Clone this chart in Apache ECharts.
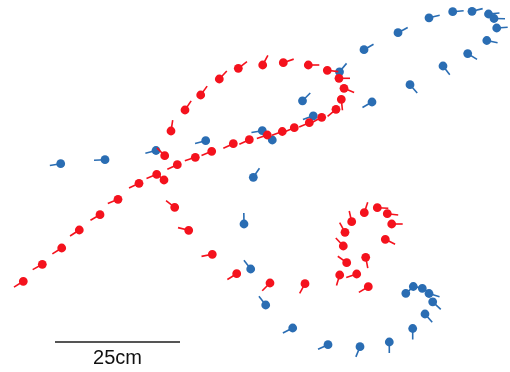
<!DOCTYPE html>
<html>
<head>
<meta charset="utf-8">
<script src="https://cdn.jsdelivr.net/npm/echarts@6/dist/echarts.min.js"></script>
<style>
html,body{margin:0;padding:0;background:#fff;}
#chart{width:510px;height:372px;}
</style>
</head>
<body>
<div id="chart"></div>
<script>
// positions in cm, heading angle in degrees (counter-clockwise from +x)
var redX = [4.66,8.46,12.34,15.86,20.0,23.6,27.8,31.34,35.46,39.06,42.34,46.66,49.86,53.46,56.46,58.86,61.86,64.34,67.2,68.26,68.8,67.8,65.46,61.66,56.66,52.54,47.66,43.86,40.14,37.0,34.2,32.94,32.8,34.94,37.74,42.46,47.34,54.0,61.0,67.94,71.34,73.66,69.34,73.14,68.66,69.0,70.34,72.86,75.46,77.46,78.34,77.06];
var redY = [18.14,21.54,24.8,28.4,31.46,34.54,37.74,39.54,41.46,42.94,44.14,45.66,46.46,47.4,48.1,48.86,49.86,50.94,52.54,54.54,56.74,58.74,60.34,61.4,61.86,61.4,60.74,58.6,55.4,52.4,48.2,43.26,38.4,32.94,28.34,23.54,19.66,17.8,17.66,19.4,19.6,17.06,21.86,22.94,25.2,27.94,30.06,31.86,32.86,31.66,29.6,26.54];
var redAngle = [212,209,212,213,210,202,205,202,205,198,202,205,205,198,200,203,203,208,220,276,337,0,353,0,19,62,38,47,54,56,81,135,140,142,166,191,212,225,241,253,198,211,144,281,133,119,103,72,357,353,0,333];

var blueX = [12.14,21.0,31.2,41.14,52.46,54.46,50.66,48.8,50.14,53.14,58.54,65.6,72.0,77.86,82.54,85.0,86.54,85.8,84.46,82.66,81.16,60.5,62.66,67.9,72.8,74.4,79.6,82.0,85.8,88.6,90.54,93.54,94.4,97.36,97.7,98.8,99.34];
var blueY = [41.66,42.46,44.3,46.26,48.26,46.4,38.94,29.6,20.6,13.4,8.8,5.46,5.06,6.0,8.7,11.6,14.04,15.7,16.74,17.1,15.74,54.24,51.24,60.04,64.46,54.0,67.86,57.46,70.84,61.2,72.06,63.68,72.14,66.3,71.6,70.7,68.8];
var blueAngle = [189,183,195,195,189,150,56,91,128,128,207,205,248,270,270,311,317,343,330,350,40,45,200,50,30,210,28,311,13,308,5,328,14,348,5,359,4];

var scaleLength = 25;      // cm
var scaleLabel = '25cm';

function buildData(xs, ys, as) {
  return xs.map(function (x, i) { return [x, ys[i], as[i]]; });
}

var RED = '#f4121d';
var BLUE = '#2a6db3';

function makeRender(color) {
  return function (params, api) {
    var p = api.coord([api.value(0), api.value(1)]);
    var a = api.value(2) * Math.PI / 180;
    var L = 11;
    return {
      type: 'group',
      children: [
        { type: 'line', shape: { x1: p[0], y1: p[1], x2: p[0] + L * Math.cos(a), y2: p[1] - L * Math.sin(a) },
          style: { stroke: color, lineWidth: 1.6 } },
        { type: 'circle', shape: { cx: p[0], cy: p[1], r: 4.4 }, style: { fill: color } }
      ]
    };
  };
}

var chart = echarts.init(document.getElementById('chart'));
chart.setOption({
  animation: false,
  backgroundColor: '#fff',
  grid: { left: 0, right: 0, top: 0, bottom: 0 },
  xAxis: { type: 'value', min: 0, max: 102, show: false },
  yAxis: { type: 'value', min: 0, max: 74.4, show: false },
  series: [
    { type: 'custom', name: 'blue', renderItem: makeRender(BLUE), data: buildData(blueX, blueY, blueAngle), z: 2 },
    { type: 'custom', name: 'red', renderItem: makeRender(RED), data: buildData(redX, redY, redAngle), z: 3 }
  ]
});

var p0 = chart.convertToPixel({ gridIndex: 0 }, [11, 6]);
var p1 = chart.convertToPixel({ gridIndex: 0 }, [11 + scaleLength, 6]);
chart.setOption({
  graphic: [
    { type: 'line', shape: { x1: p0[0], y1: p0[1], x2: p1[0], y2: p1[1] }, style: { stroke: '#555', lineWidth: 2 } },
    { type: 'text', x: (p0[0] + p1[0]) / 2, y: p0[1] + 16,
      style: { text: scaleLabel, fill: '#111', font: '20px "Liberation Sans", Arial, sans-serif', textAlign: 'center', textVerticalAlign: 'middle' } }
  ]
});
</script>
</body>
</html>
